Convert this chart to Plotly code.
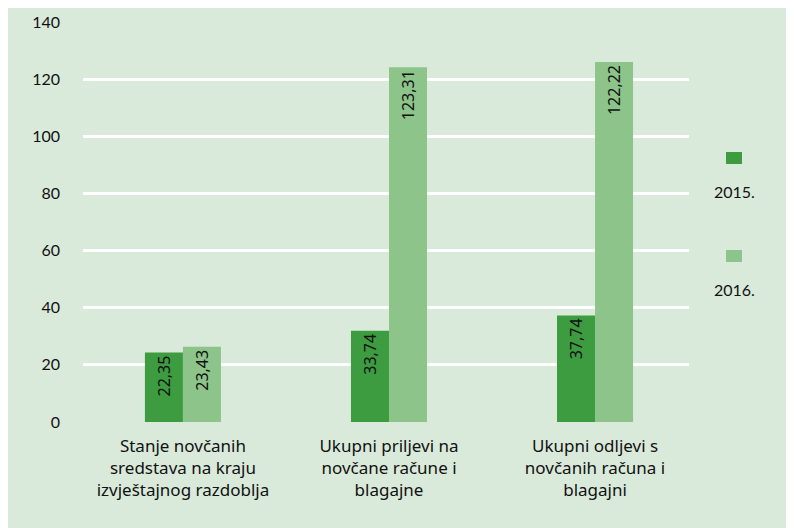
import plotly.graph_objects as go

categories = [
    "Stanje novčanih<br>sredstava na kraju<br>izvještajnog razdoblja",
    "Ukupni priljevi na<br>novčane račune i<br>blagajne",
    "Ukupni odljevi s<br>novčanih računa i<br>blagajni",
]
series_names = ["2015.", "2016."]
values_2015 = [24.3, 31.9, 37.3]
values_2016 = [26.3, 124.2, 126.0]
labels_2015 = ["22,35", "33,74", "37,74"]
labels_2016 = ["23,43", "123,31", "122,22"]
y_ticks = [0, 20, 40, 60, 80, 100, 120, 140]

DARK = "#3d9b40"
LIGHT = "#8cc48a"
BG = "#d9eada"
TXT = "#111111"

fig = go.Figure()
for name, vals, labs, col in [
    (series_names[0], values_2015, labels_2015, DARK),
    (series_names[1], values_2016, labels_2016, LIGHT),
]:
    fig.add_trace(go.Bar(
        x=categories, y=vals, name=name, marker=dict(color=col, line=dict(width=0)),
        text=labs, textposition="inside", insidetextanchor="end", textangle=-90,
        textfont=dict(family="Noto Sans", size=16, color=TXT),
        constraintext="none", showlegend=False,
    ))

OFF = 8  # page body margin
W, H = 794, 528
L, R, T, B = 83 - OFF, 794 - 689 + OFF, 22 - OFF, 528 - 422 + OFF
pw, ph = W - L - R, H - T - B

def px_x(p):
    return (p - OFF - L) / pw

def px_y(p):
    return (H - B - (p - OFF)) / ph

shapes = []
annotations = []
for i, (name, col) in enumerate(zip(series_names, [DARK, LIGHT])):
    top = 152 + i * 98
    shapes.append(dict(type="rect", xref="paper", yref="paper",
                       x0=px_x(726), x1=px_x(742), y0=px_y(top + 12), y1=px_y(top),
                       fillcolor=col, line=dict(width=0)))
    annotations.append(dict(text=name, xref="paper", yref="paper", showarrow=False,
                            x=px_x(734), y=px_y(top + 39), xanchor="center", yanchor="middle",
                            font=dict(family="Lato", size=16, color=TXT)))

fig.update_layout(
    width=W, height=H,
    margin=dict(l=L, r=R, t=T, b=B, pad=0),
    paper_bgcolor=BG, plot_bgcolor=BG,
    barmode="group", bargap=0.631, bargroupgap=0,
    shapes=shapes, annotations=annotations,
    font=dict(family="Noto Sans", color=TXT),
)
fig.update_xaxes(range=[-0.485, 2.456], showgrid=False, zeroline=False, showline=False,
                 ticks="", tickfont=dict(family="Noto Sans", size=17, color=TXT),
                 tickangle=0, automargin=False, ticklabelstandoff=12)
fig.update_yaxes(range=[0, 140], tickvals=y_ticks, showgrid=True, gridcolor="white",
                 gridwidth=2.5, zeroline=False, showline=False, ticks="",
                 tickfont=dict(family="Lato", size=16, color=TXT),
                 ticklabelstandoff=22, automargin=False)

fig.write_html("out.html")
